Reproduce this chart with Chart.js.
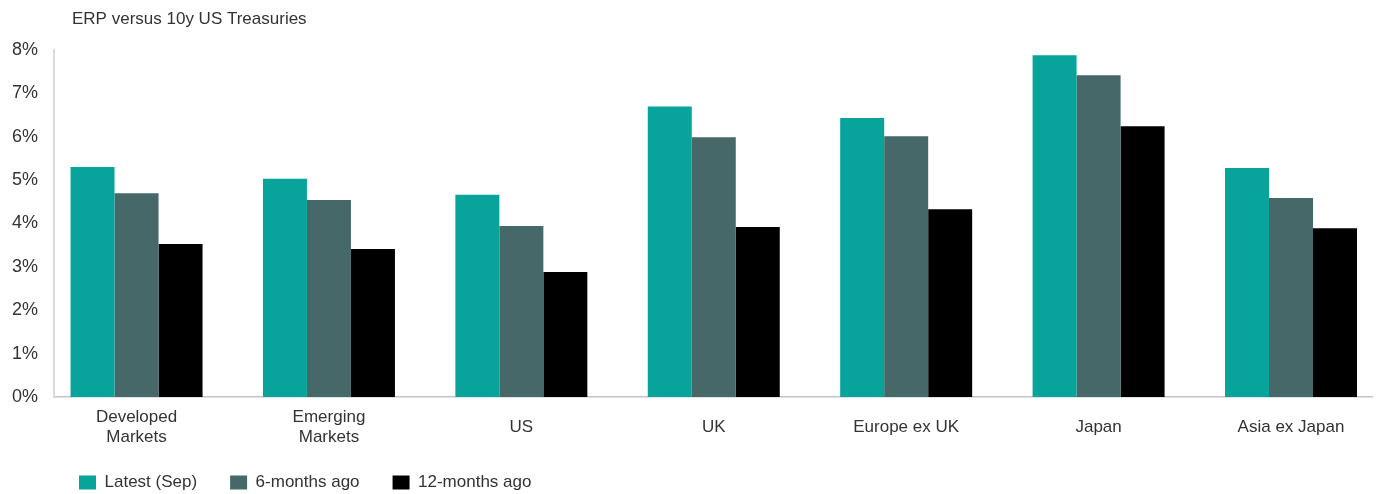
<!DOCTYPE html>
<html>
<head>
<meta charset="utf-8">
<script src="https://cdn.jsdelivr.net/npm/chart.js@4/dist/chart.umd.min.js"></script>
<style>
  html, body { margin: 0; padding: 0; background: #fff; overflow: hidden; }
  #wrap { width: 1381px; height: 494px; position: relative; }
</style>
</head>
<body>
<div id="wrap"><canvas id="erp"></canvas></div>
<script>
const categories = ["Developed Markets", "Emerging Markets", "US", "UK", "Europe ex UK", "Japan", "Asia ex Japan"];
const tickLines = [["Developed", "Markets"], ["Emerging", "Markets"], "US", "UK", "Europe ex UK", "Japan", "Asia ex Japan"];
const seriesNames = ["Latest (Sep)", "6-months ago", "12-months ago"];
const latest = [5.30, 5.03, 4.66, 6.70, 6.43, 7.88, 5.28];
const sixMonths = [4.70, 4.54, 3.94, 5.99, 6.01, 7.42, 4.59];
const twelveMonths = [3.53, 3.41, 2.88, 3.92, 4.33, 6.24, 3.89];
const yTicks = [0, 1, 2, 3, 4, 5, 6, 7, 8];

const colors = ["#08A49C", "#466869", "#000000"];
const textColor = "#333333";
const fontFamily = "'Liberation Sans', Arial, sans-serif";

const toPoints = (vals) => vals.map((v, i) => ({ x: i, y: v }));

// move title and legend where the original puts them
const nudge = {
  id: "nudge",
  afterLayout(chart) {
    chart.titleBlock.left += 72;
    chart.legend.left += 46;
    chart.legend.top -= 10;
    chart.legend.bottom = chart.height;
  }
};

new Chart(document.getElementById("erp"), {
  type: "bar",
  plugins: [nudge],
  data: {
    datasets: [latest, sixMonths, twelveMonths].map((vals, i) => ({
      label: seriesNames[i],
      data: toPoints(vals),
      backgroundColor: colors[i],
      borderWidth: 0,
      categoryPercentage: 0.686,
      barPercentage: 1.0
    }))
  },
  options: {
    responsive: true,
    maintainAspectRatio: false,
    animation: false,
    layout: { padding: { right: 9 } },
    plugins: {
      tooltip: { enabled: false },
      title: {
        display: true,
        text: "ERP versus 10y US Treasuries",
        align: "start",
        color: textColor,
        font: { family: fontFamily, size: 17, weight: "normal" },
        padding: { top: 9, bottom: 20.6 }
      },
      legend: {
        position: "bottom",
        align: "start",
        maxHeight: 43,
        labels: {
          boxWidth: 17,
          boxHeight: 14,
          padding: 33,
          color: textColor,
          font: { family: fontFamily, size: 17 }
        }
      }
    },
    scales: {
      x: {
        type: "linear",
        offset: false,
        bounds: "data",
        min: -0.429,
        max: 6.421,
        grid: { display: false, drawTicks: false },
        border: { display: true, color: "#c4c4c4", width: 1.5 },
        afterBuildTicks(scale) {
          scale.ticks = categories.map((_, i) => ({ value: i }));
        },
        afterFit(scale) {
          scale.height = 54;
        },
        ticks: {
          includeBounds: false,
          autoSkip: false,
          maxRotation: 0,
          crossAlign: "center",
          padding: 20,
          color: textColor,
          font: { family: fontFamily, size: 17 },
          callback: (v) => tickLines[v]
        }
      },
      y: {
        min: 0,
        max: 8,
        grid: { display: false, drawTicks: false },
        border: { display: true, color: "#d9d9d9", width: 2 },
        afterBuildTicks(scale) {
          scale.ticks = yTicks.map((v) => ({ value: v }));
        },
        afterFit(scale) {
          scale.width = 54;
        },
        ticks: {
          padding: 16,
          color: textColor,
          font: { family: fontFamily, size: 18 },
          callback: (v) => v + "%"
        }
      }
    }
  }
});
</script>
</body>
</html>
